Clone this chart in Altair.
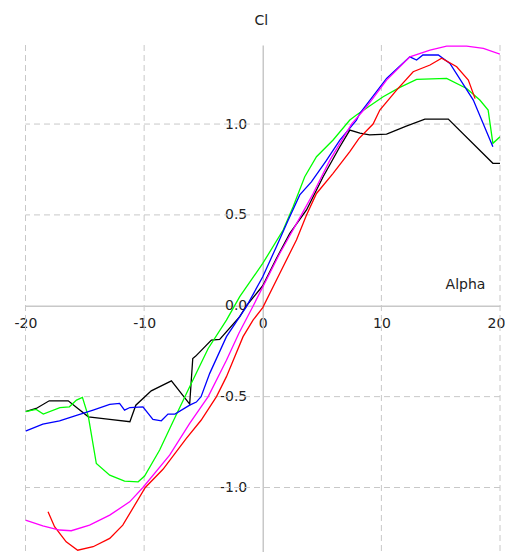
import altair as alt
import pandas as pd

# ---- data ----
alpha_black = [-20, -19.1, -18.0, -16.4, -14.7, -12.9, -11.2, -10.7, -9.4, -7.7, -6.16, -5.9, -5.65,
               -4.33, -3.63, -1.94, -1.38, 0.0, 1.15, 2.28, 3.69, 5.09, 6.5, 7.34, 8.19, 9.0, 10.44,
               12.1, 13.67, 15.64, 19.4, 20]
cl_black = [-0.583, -0.565, -0.523, -0.523, -0.611, -0.625, -0.638, -0.547, -0.468, -0.413, -0.541, -0.29,
            -0.277, -0.189, -0.185, -0.06, 0.0, 0.11, 0.26, 0.398, 0.527, 0.71, 0.875, 0.967, 0.95, 0.94,
            0.945, 0.989, 1.027, 1.027, 0.784, 0.784]

alpha_green = [-20, -19.1, -18.5, -17.1, -16.3, -15.7, -15.2, -14.7, -14.03, -12.9, -11.65, -10.5, -9.96,
               -8.69, -7.57, -6.16, -4.6, -3.06, -1.94, 0.0, 1.72, 2.56, 3.54, 4.53, 5.93, 7.34, 7.9,
               10.15, 11.56, 12.97, 15.5, 17.19, 18.3, 19.0, 19.4, 20]
cl_green = [-0.583, -0.57, -0.596, -0.56, -0.556, -0.519, -0.504, -0.61, -0.868, -0.932, -0.965, -0.969,
            -0.937, -0.794, -0.638, -0.446, -0.235, -0.079, 0.05, 0.233, 0.417, 0.545, 0.71, 0.82, 0.912,
            1.022, 1.05, 1.15, 1.202, 1.246, 1.251, 1.196, 1.132, 1.077, 0.894, 0.93]

alpha_blue = [-20, -18.54, -17.13, -15.7, -14.3, -12.9, -12.07, -11.65, -11.2, -10.1, -9.26, -8.55, -7.99,
              -7.4, -6.16, -5.6, -5.2, -4.47, -3.06, -1.38, 0.0, 1.15, 2.14, 3.12, 4.1, 5.37, 6.5, 7.9,
              8.19, 10.44, 12.4, 12.97, 13.5, 14.8, 15.78, 17.75, 19.4]
cl_blue = [-0.69, -0.651, -0.633, -0.603, -0.574, -0.543, -0.537, -0.574, -0.56, -0.556, -0.625, -0.633,
           -0.596, -0.596, -0.547, -0.53, -0.5, -0.372, -0.17, -0.005, 0.16, 0.325, 0.47, 0.61, 0.682,
           0.80, 0.912, 1.022, 1.059, 1.251, 1.37, 1.352, 1.38, 1.38, 1.334, 1.132, 0.875]

alpha_red = [-18.1, -17.55, -16.57, -15.6, -14.3, -12.9, -11.8, -9.9, -8.41, -6.44, -5.2, -3.9, -3.06,
             -1.66, -0.82, 0.0, 1.43, 2.84, 3.69, 4.53, 5.93, 7.34, 8.1, 9.3, 9.87, 11.28, 12.68, 14.1,
             15.08, 16.35, 17.33, 17.9]
cl_red = [-1.134, -1.216, -1.299, -1.345, -1.326, -1.28, -1.207, -1.0, -0.90, -0.73, -0.63, -0.5, -0.39,
          -0.17, -0.079, -0.01, 0.178, 0.362, 0.5, 0.618, 0.729, 0.848, 0.92, 1.0, 1.077, 1.187, 1.288,
          1.325, 1.362, 1.315, 1.242, 1.14]

alpha_magenta = [-20, -18.54, -17.13, -16.14, -14.6, -12.9, -11.22, -10.1, -7.85, -6.16, -4.6, -3.06, -2.0,
                 -0.8, 1.43, 3.26, 4.25, 5.65, 7.48, 8.75, 10.44, 12.4, 14.1, 15.5, 17.19, 18.6, 20]
cl_magenta = [-1.18, -1.211, -1.234, -1.238, -1.207, -1.152, -1.079, -1.0, -0.822, -0.647, -0.5, -0.3,
              -0.15, 0.0, 0.288, 0.5, 0.618, 0.80, 1.0, 1.095, 1.242, 1.37, 1.407, 1.429, 1.429, 1.417, 1.385]

series_names = ["black", "green", "blue", "red", "magenta"]
series_colors = ["#000000", "#00ff00", "#0000ff", "#ff0000", "#ff00ff"]

alpha_ticks = [-20, -10, 0, 10, 20]
cl_ticks = [-1.0, -0.5, 0.0, 0.5, 1.0]
alpha_grid = [-20, -10, 10, 20]
cl_grid = [-1.0, -0.5, 0.5, 1.0]

# ---- layout ----
X_MIN, X_MAX = -20, 20
Y_MIN, Y_MAX = -1.355, 1.435
W, H = 474.5, 507
FONT = "DejaVu Sans"
TXT = "#222222"
GRID = "#c8c8c8"

rows = []
for name, xs, ys in zip(series_names,
                        [alpha_black, alpha_green, alpha_blue, alpha_red, alpha_magenta],
                        [cl_black, cl_green, cl_blue, cl_red, cl_magenta]):
    for i, (a, c) in enumerate(zip(xs, ys)):
        rows.append({"series": name, "alpha": a, "cl": c, "i": i})
df = pd.DataFrame(rows)

x_scale = alt.Scale(domain=[X_MIN, X_MAX], nice=False, zero=False)
y_scale = alt.Scale(domain=[Y_MIN, Y_MAX], nice=False, zero=False)

x_off = -H * (0 - Y_MIN) / (Y_MAX - Y_MIN)
y_off = -W * (0 - X_MIN) / (X_MAX - X_MIN)

minus_fix = "replace(datum.label, '\u2212', '-')"

x_axis = alt.Axis(values=alpha_ticks, format="d", labelExpr=minus_fix, orient="bottom", offset=x_off,
                  grid=False, ticks=False, labelFlush=False, labelPadding=11, labelFont=FONT,
                  labelOffset={"condition": {"test": "datum.value == 20", "value": -4}, "value": 0},
                  labelFontSize=14, labelColor=TXT, domainColor=GRID, domainWidth=1.5,
                  title="Alpha", titleX=439.5, titleY=-21.7, titleAlign="center", titleBaseline="middle",
                  titleFont=FONT, titleFontSize=14, titleFontWeight="normal", titleColor=TXT)
y_axis = alt.Axis(values=cl_ticks, format=".1f", labelExpr=minus_fix, orient="left", offset=y_off,
                  grid=False, ticks=False, labelFlush=False, labelPadding=16, labelFont=FONT,
                  labelFontSize=14, labelColor=TXT, labelBaseline="middle", domainColor=GRID,
                  domainWidth=1.5, title="Cl", titleAngle=0, titleX=-2, titleY=-25, titleAlign="center",
                  titleBaseline="middle", titleFont=FONT, titleFontSize=14, titleFontWeight="normal",
                  titleColor=TXT)

vgrid = alt.Chart(pd.DataFrame({"alpha": alpha_grid})).mark_rule(
    color=GRID, strokeDash=[6, 4], strokeWidth=1
).encode(x=alt.X("alpha:Q", scale=x_scale, axis=x_axis))

hgrid = alt.Chart(pd.DataFrame({"cl": cl_grid})).mark_rule(
    color=GRID, strokeDash=[6, 4], strokeWidth=1
).encode(y=alt.Y("cl:Q", scale=y_scale, axis=y_axis))

lines = alt.Chart(df).mark_line(strokeWidth=1.3, clip=True).encode(
    x=alt.X("alpha:Q", scale=x_scale, axis=x_axis),
    y=alt.Y("cl:Q", scale=y_scale, axis=y_axis),
    color=alt.Color("series:N", scale=alt.Scale(domain=series_names, range=series_colors), legend=None),
    order="i:Q",
)

chart = alt.layer(vgrid, hgrid, lines).properties(
    width=W, height=H,
    padding={"left": 17.5, "top": 37, "right": 5, "bottom": 0},
    autosize=alt.AutoSizeParams(type="none"),
    background="white",
).configure_view(stroke=None)

chart.save("out.html", embed_options={"renderer": "svg", "actions": False})
